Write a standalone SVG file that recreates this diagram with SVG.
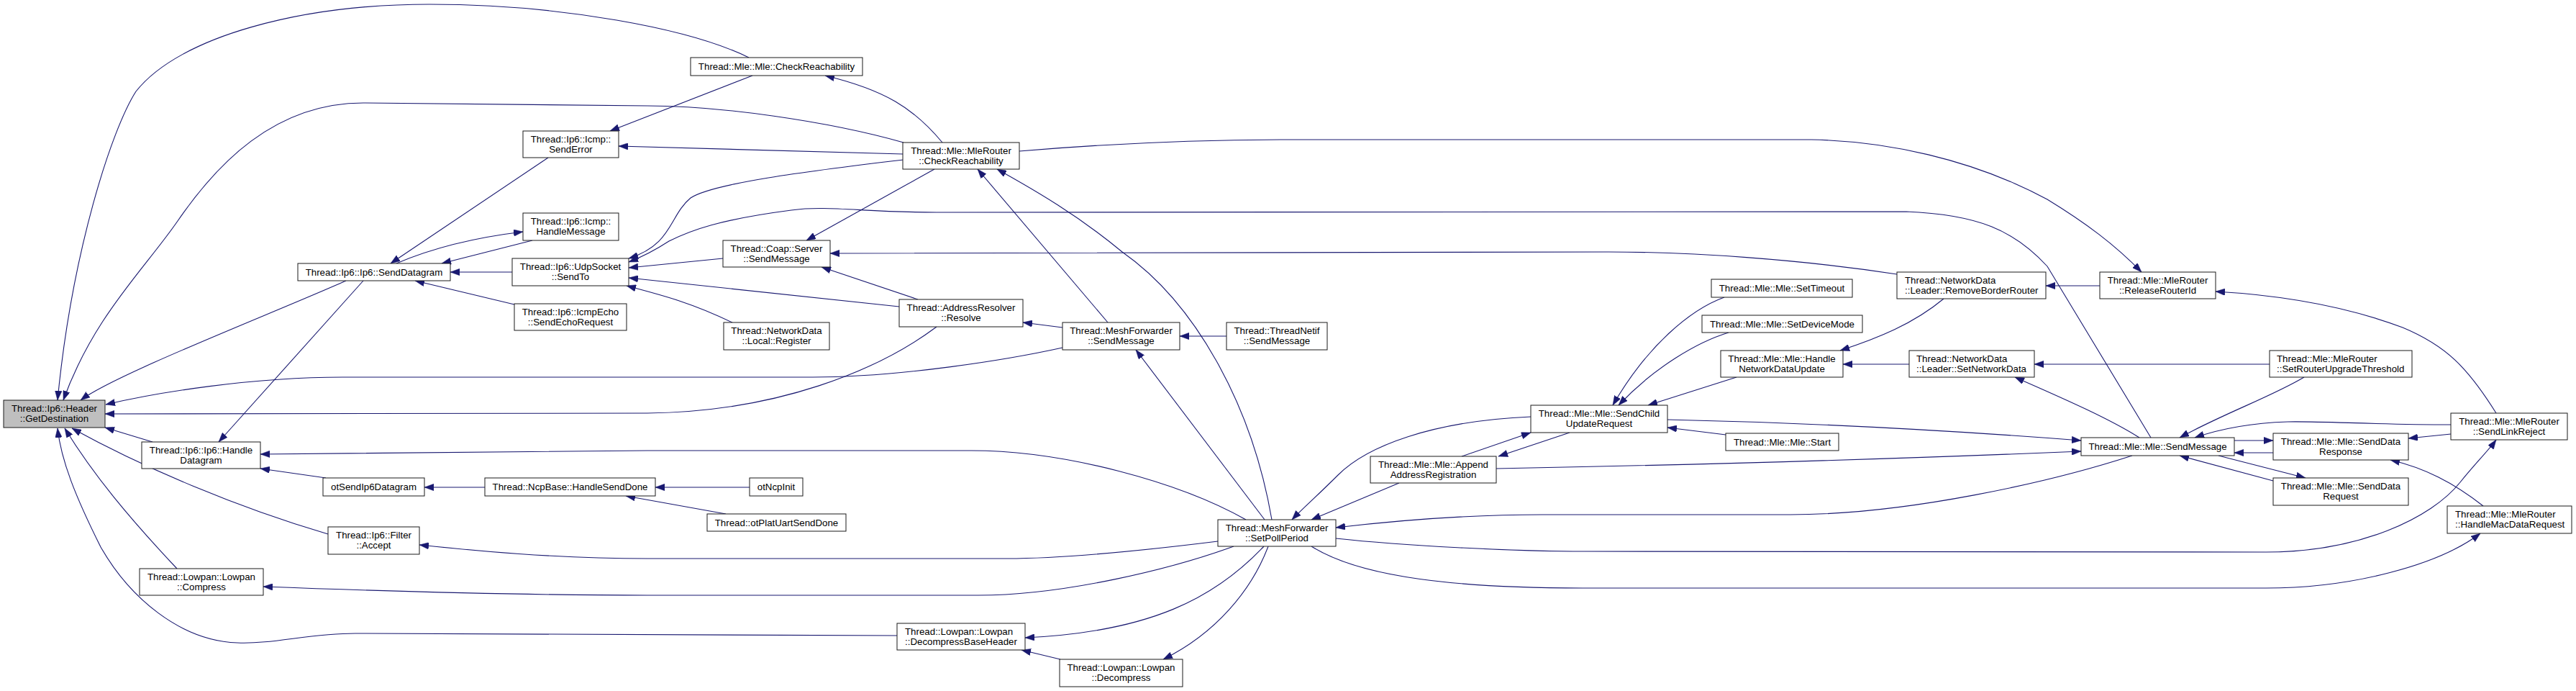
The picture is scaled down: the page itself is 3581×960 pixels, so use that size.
<svg xmlns="http://www.w3.org/2000/svg" width="3581" height="960" viewBox="0 0 3581 960">
<style>
rect{fill:#fff;stroke:#1a1a1a;stroke-width:1}
rect.g{fill:#bfbfbf}
text{font-family:"Liberation Sans",Arial,Helvetica,sans-serif;font-size:13.3px;fill:#000}
.c{text-anchor:middle}
.l{text-anchor:start}
#edges path{fill:none;stroke:#191970;stroke-width:1.1;marker-end:url(#ah)}
</style>
<defs>
<marker id="ah" viewBox="0 0 13 9.5" refX="13" refY="4.75" markerWidth="13" markerHeight="9.5" markerUnits="userSpaceOnUse" orient="auto">
<path d="M0,0 L13,4.75 L0,9.5 z" fill="#191970" stroke="#191970" stroke-width="0.5"/>
</marker>
</defs>
<rect x="0" y="0" width="3581" height="960" style="fill:#fff;stroke:none"/>
<g id="edges">
<path d="M1041,80 C960,40 780,6 597,6 C420,6 250,50 189,127 C155,180 100,350 80,556"/>
<path d="M1256,198 C1150,168 1000,147 900,147 L505,143 C380,143 300,230 247,307 C200,375 130,440 88,556"/>
<path d="M481,390 C380,435 160,520 112,556"/>
<path d="M1477,483 C1400,500 1250,524 1130,524 L476,524 C350,524 220,545 147,562"/>
<path d="M1302,454 C1220,515 1080,572 900,574 L146,575"/>
<path d="M212,614 L146,594"/>
<path d="M456,742 C330,705 200,650 100,595"/>
<path d="M246,790 C180,720 130,660 90,595"/>
<path d="M1247,883 L494,880 C430,880 380,895 330,893 C250,890 180,830 140,760 C105,690 85,640 80,595"/>
<path d="M505,390 L304,614"/>
<path d="M453,664 L362,651"/>
<path d="M1732,722 C1640,670 1480,626 1350,626 L900,626 L362,631"/>
<path d="M674,677 L590,677"/>
<path d="M1042,677 L911,677"/>
<path d="M1009,714 L870,689"/>
<path d="M1693,752 C1580,766 1470,776 1400,776 L900,776 C770,776 660,765 583,757"/>
<path d="M1715,759 C1630,790 1480,827 1360,827 L900,827 C700,827 500,820 366,815"/>
<path d="M1757,759 C1690,830 1600,878 1425,886"/>
<path d="M1763,759 C1740,820 1690,880 1617,916"/>
<path d="M1474,916 L1420,903"/>
<path d="M1046,105 L848,182"/>
<path d="M1255,214 L860,203"/>
<path d="M1310,198 C1270,150 1230,125 1147,105"/>
<path d="M762,219 L543,366"/>
<path d="M740,334 L614,366"/>
<path d="M551,366 C600,345 660,330 727,322"/>
<path d="M712,378 L626,378"/>
<path d="M715,423 L577,390"/>
<path d="M1256,222 C1120,238 990,255 960,275 C930,300 935,340 874,359"/>
<path d="M2990,608 L2846,370 C2800,320 2750,298 2650,294 L1302,295 C1200,295 1150,285 1100,292 C1000,305 960,320 930,335 C910,348 895,356 874,364"/>
<path d="M1005,359 L874,372"/>
<path d="M1250,426 L874,386"/>
<path d="M1018,448 C960,420 920,410 871,397"/>
<path d="M1299,235 L1121,334"/>
<path d="M1276,416 L1142,371"/>
<path d="M2637,381 C2500,360 2350,350 2236,350 L1154,352"/>
<path d="M1477,455 L1422,448"/>
<path d="M1540,448 L1359,235"/>
<path d="M1768,722 C1740,560 1660,420 1560,350 C1500,300 1440,265 1386,235"/>
<path d="M1758,722 L1579,486"/>
<path d="M1705,467 L1640,467"/>
<path d="M1417,210 C1560,198 1700,194 1800,194 L2518,194 C2620,196 2740,220 2846,277 C2900,310 2940,340 2977,378"/>
<path d="M2919,397 L2844,397"/>
<path d="M3470,574 C3430,510 3400,480 3340,455 C3260,425 3170,410 3080,405"/>
<path d="M2702,415 C2660,450 2610,470 2558,487"/>
<path d="M2654,506 L2562,506"/>
<path d="M2397,413 C2350,430 2290,480 2242,563"/>
<path d="M2403,462 C2360,475 2300,510 2250,563"/>
<path d="M2414,524 L2291,563"/>
<path d="M2399,604 L2318,594"/>
<path d="M2032,634 L2128,601"/>
<path d="M2182,601 L2083,634"/>
<path d="M2128,579 C1990,585 1900,620 1860,660 C1830,690 1812,705 1796,722"/>
<path d="M1945,671 L1823,722"/>
<path d="M2964,633 C2850,670 2650,715 2489,715 L2144,715 C2050,715 1950,722 1857,733"/>
<path d="M1857,748 C1950,758 2100,766 2202,766 L3150,767 C3280,767 3380,720 3420,670 C3440,645 3460,625 3470,611"/>
<path d="M1823,759 C1880,795 1990,817 2200,817 L3150,817 C3270,817 3390,785 3448,741"/>
<path d="M2318,583 C2500,587 2700,597 2893,612"/>
<path d="M2080,651 C2400,645 2700,635 2893,627"/>
<path d="M2974,608 C2930,580 2860,550 2801,524"/>
<path d="M3155,506 L2828,506"/>
<path d="M3203,524 C3160,550 3090,575 3030,608"/>
<path d="M3407,590 C3300,590 3230,585 3180,586 C3120,588 3080,598 3051,608"/>
<path d="M3106,612 L3160,612"/>
<path d="M3160,629 L3106,629"/>
<path d="M3084,633 L3205,664"/>
<path d="M3160,668 L3030,633"/>
<path d="M3407,603 L3348,609"/>
<path d="M3452,703 C3410,670 3370,650 3323,639"/>
</g>
<g id="n1"><rect class="g" x="5" y="556" width="141" height="38"/><text class="c" x="75.5" y="572">Thread::Ip6::Header</text><text class="c" x="75.5" y="586">::GetDestination</text></g>
<g id="n2"><rect x="414" y="366" width="212" height="24"/><text class="c" x="520" y="383">Thread::Ip6::Ip6::SendDatagram</text></g>
<g id="n3"><rect x="197" y="614" width="165" height="37"/><text class="c" x="279.5" y="630">Thread::Ip6::Ip6::Handle</text><text class="c" x="279.5" y="644">Datagram</text></g>
<g id="n4"><rect x="456" y="732" width="127" height="38"/><text class="c" x="519.5" y="748">Thread::Ip6::Filter</text><text class="c" x="519.5" y="762">::Accept</text></g>
<g id="n5"><rect x="194" y="790" width="172" height="37"/><text class="c" x="280" y="806">Thread::Lowpan::Lowpan</text><text class="c" x="280" y="820">::Compress</text></g>
<g id="n6"><rect x="727" y="182" width="133" height="37"/><text class="c" x="793.5" y="198">Thread::Ip6::Icmp::</text><text class="c" x="793.5" y="212">SendError</text></g>
<g id="n7"><rect x="727" y="296" width="133" height="38"/><text class="c" x="793.5" y="312">Thread::Ip6::Icmp::</text><text class="c" x="793.5" y="326">HandleMessage</text></g>
<g id="n8"><rect x="712" y="359" width="162" height="38"/><text class="c" x="793" y="375">Thread::Ip6::UdpSocket</text><text class="c" x="793" y="389">::SendTo</text></g>
<g id="n9"><rect x="715" y="422" width="156" height="37"/><text class="c" x="793" y="438">Thread::Ip6::IcmpEcho</text><text class="c" x="793" y="452">::SendEchoRequest</text></g>
<g id="n10"><rect x="449" y="664" width="141" height="25"/><text class="c" x="519.5" y="681">otSendIp6Datagram</text></g>
<g id="n11"><rect x="674" y="664" width="237" height="25"/><text class="c" x="792.5" y="681">Thread::NcpBase::HandleSendDone</text></g>
<g id="n12"><rect x="1042" y="664" width="74" height="25"/><text class="c" x="1079" y="681">otNcpInit</text></g>
<g id="n13"><rect x="983" y="714" width="193" height="24"/><text class="c" x="1079.5" y="731">Thread::otPlatUartSendDone</text></g>
<g id="n14"><rect x="960" y="80" width="239" height="25"/><text class="c" x="1079.5" y="97">Thread::Mle::Mle::CheckReachability</text></g>
<g id="n15"><rect x="1255" y="198" width="162" height="37"/><text class="c" x="1336" y="214">Thread::Mle::MleRouter</text><text class="c" x="1336" y="228">::CheckReachability</text></g>
<g id="n16"><rect x="1005" y="334" width="149" height="37"/><text class="c" x="1079.5" y="350">Thread::Coap::Server</text><text class="c" x="1079.5" y="364">::SendMessage</text></g>
<g id="n17"><rect x="1250" y="416" width="172" height="38"/><text class="c" x="1336" y="432">Thread::AddressResolver</text><text class="c" x="1336" y="446">::Resolve</text></g>
<g id="n18"><rect x="1006" y="448" width="147" height="38"/><text class="c" x="1079.5" y="464">Thread::NetworkData</text><text class="c" x="1079.5" y="478">::Local::Register</text></g>
<g id="n19"><rect x="1477" y="448" width="163" height="38"/><text class="c" x="1558.5" y="464">Thread::MeshForwarder</text><text class="c" x="1558.5" y="478">::SendMessage</text></g>
<g id="n20"><rect x="1705" y="448" width="140" height="38"/><text class="c" x="1775" y="464">Thread::ThreadNetif</text><text class="c" x="1775" y="478">::SendMessage</text></g>
<g id="n21"><rect x="1693" y="722" width="164" height="37"/><text class="c" x="1775" y="738">Thread::MeshForwarder</text><text class="c" x="1775" y="752">::SetPollPeriod</text></g>
<g id="n22"><rect x="1247" y="866" width="178" height="37"/><text class="l" x="1258" y="882">Thread::Lowpan::Lowpan</text><text class="l" x="1258" y="896">::DecompressBaseHeader</text></g>
<g id="n23"><rect x="1473" y="916" width="171" height="38"/><text class="c" x="1558.5" y="932">Thread::Lowpan::Lowpan</text><text class="c" x="1558.5" y="946">::Decompress</text></g>
<g id="n24"><rect x="2379" y="388" width="196" height="25"/><text class="c" x="2477" y="405">Thread::Mle::Mle::SetTimeout</text></g>
<g id="n25"><rect x="2366" y="438" width="223" height="24"/><text class="c" x="2477.5" y="455">Thread::Mle::Mle::SetDeviceMode</text></g>
<g id="n26"><rect x="2637" y="378" width="207" height="37"/><text class="l" x="2648" y="394">Thread::NetworkData</text><text class="l" x="2648" y="408">::Leader::RemoveBorderRouter</text></g>
<g id="n27"><rect x="2919" y="378" width="161" height="37"/><text class="c" x="2999.5" y="394">Thread::Mle::MleRouter</text><text class="c" x="2999.5" y="408">::ReleaseRouterId</text></g>
<g id="n28"><rect x="2392" y="487" width="170" height="37"/><text class="c" x="2477" y="503">Thread::Mle::Mle::Handle</text><text class="c" x="2477" y="517">NetworkDataUpdate</text></g>
<g id="n29"><rect x="2654" y="487" width="174" height="37"/><text class="l" x="2664" y="503">Thread::NetworkData</text><text class="l" x="2664" y="517">::Leader::SetNetworkData</text></g>
<g id="n30"><rect x="2128" y="563" width="190" height="38"/><text class="c" x="2223" y="579">Thread::Mle::Mle::SendChild</text><text class="c" x="2223" y="593">UpdateRequest</text></g>
<g id="n31"><rect x="2399" y="602" width="157" height="24"/><text class="c" x="2477.5" y="619">Thread::Mle::Mle::Start</text></g>
<g id="n32"><rect x="1905" y="634" width="175" height="37"/><text class="c" x="1992.5" y="650">Thread::Mle::Mle::Append</text><text class="c" x="1992.5" y="664">AddressRegistration</text></g>
<g id="n33"><rect x="2893" y="608" width="213" height="25"/><text class="c" x="2999.5" y="625">Thread::Mle::Mle::SendMessage</text></g>
<g id="n34"><rect x="3155" y="487" width="198" height="37"/><text class="l" x="3165" y="503">Thread::Mle::MleRouter</text><text class="l" x="3165" y="517">::SetRouterUpgradeThreshold</text></g>
<g id="n35"><rect x="3160" y="602" width="188" height="37"/><text class="c" x="3254" y="618">Thread::Mle::Mle::SendData</text><text class="c" x="3254" y="632">Response</text></g>
<g id="n36"><rect x="3160" y="664" width="188" height="38"/><text class="c" x="3254" y="680">Thread::Mle::Mle::SendData</text><text class="c" x="3254" y="694">Request</text></g>
<g id="n37"><rect x="3407" y="574" width="162" height="37"/><text class="c" x="3488" y="590">Thread::Mle::MleRouter</text><text class="c" x="3488" y="604">::SendLinkReject</text></g>
<g id="n38"><rect x="3402" y="703" width="173" height="38"/><text class="l" x="3413" y="719">Thread::Mle::MleRouter</text><text class="l" x="3413" y="733">::HandleMacDataRequest</text></g>
</svg>
